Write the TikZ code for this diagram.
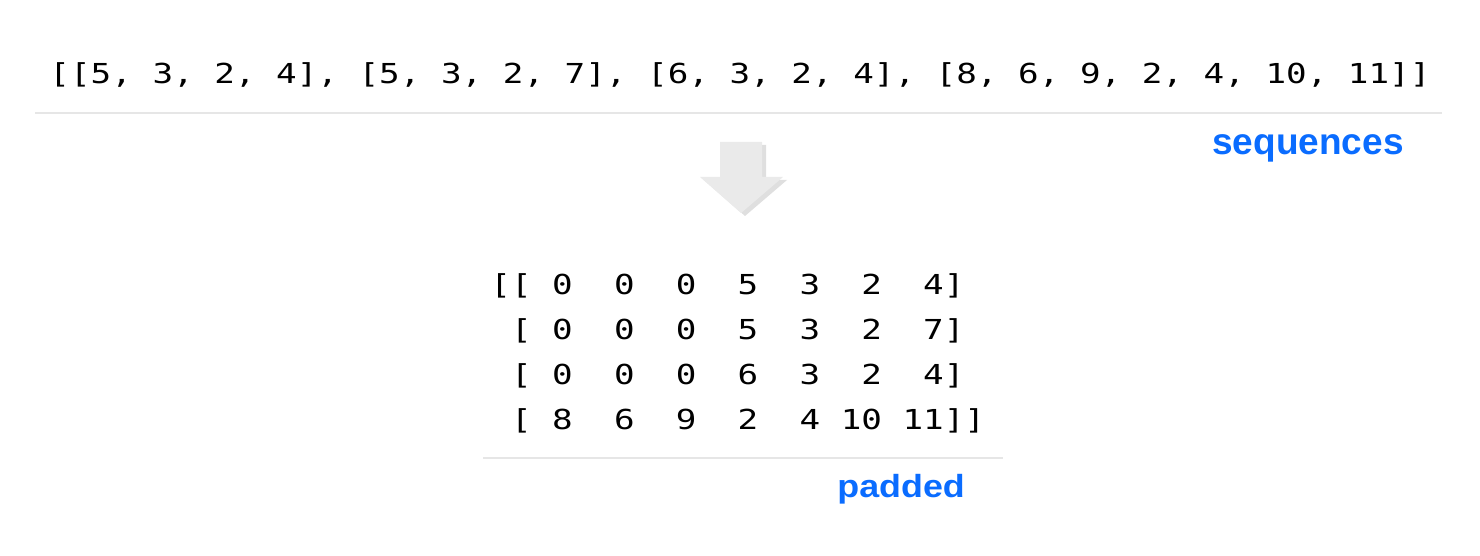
\documentclass[tikz,border=0pt]{standalone}
\usepackage{fontspec}
\usetikzlibrary{shadows}
\newfontfamily\codefont[FakeStretch=1.245]{DejaVu Sans Mono}
\newfontfamily\lblfont{Liberation Sans}
\newfontfamily\lblfontw[FakeStretch=1.12]{Liberation Sans}
\definecolor{lblblue}{RGB}{10,108,255}
\definecolor{rulegray}{RGB}{230,230,230}
\definecolor{arrowgray}{RGB}{234,234,234}
\tikzset{
  code/.style={inner sep=0pt, font=\fontsize{13.75pt}{16pt}\codefont\frenchspacing},
  lbl/.style={inner sep=0pt, text=lblblue},
  sep/.style={draw=rulegray, line width=1.2pt},
  bigarrow/.style={fill=arrowgray, draw=none, drop shadow={opacity=0.25, shadow xshift=2pt, shadow yshift=-1.5pt}}
}
\begin{document}
\begin{tikzpicture}[x=0.5pt,y=-0.5pt]
\path[use as bounding box] (0,0) rectangle (1480,556);
% top sequences
\node[code, anchor=base] (seq) at (740,84) {[[5,~3,~2,~4],~[5,~3,~2,~7],~[6,~3,~2,~4],~[8,~6,~9,~2,~4,~10,~11]]};
\coordinate (s1) at (35,113);
\coordinate (s2) at (1442,113);
\draw[sep] (s1) -- (s2);
\node[lbl, anchor=base west, font=\fontsize{18.5pt}{22pt}\lblfont\bfseries] (seqlbl) at (1212,155) {sequences};
% arrow
\path[bigarrow] (720,142) -- (762,142) -- (762,177) -- (783,177) -- (741,213) -- (700,177) -- (720,177) -- cycle;
% padded matrix
\node[code, anchor=base west] (r1) at (490,294) {[[~0~~0~~0~~5~~3~~2~~4]};
\node[code, anchor=base west] (r2) at (490,339) {~[~0~~0~~0~~5~~3~~2~~7]};
\node[code, anchor=base west] (r3) at (490,384) {~[~0~~0~~0~~6~~3~~2~~4]};
\node[code, anchor=base west] (r4) at (490,429) {~[~8~~6~~9~~2~~4~10~11]]};
\coordinate (p1) at (483,458);
\coordinate (p2) at (1003,458);
\draw[sep] (p1) -- (p2);
\node[lbl, anchor=base west, font=\fontsize{16pt}{19pt}\lblfontw\bfseries] (padlbl) at (837,497) {padded};
\end{tikzpicture}
\end{document}
